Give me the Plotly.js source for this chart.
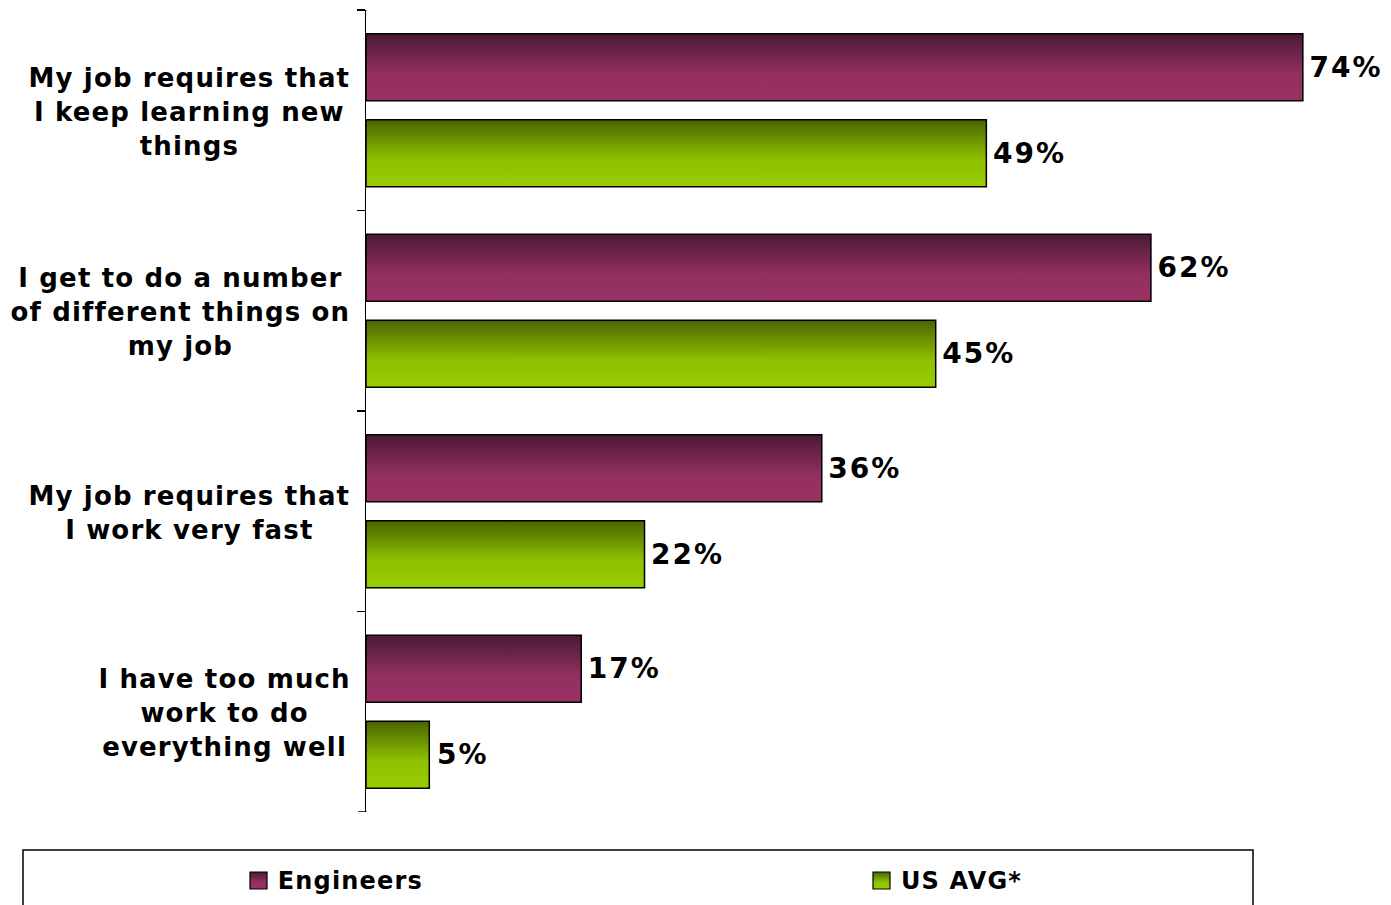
<!DOCTYPE html>
<html>
<head>
<meta charset="utf-8">
<script src="https://cdn.plot.ly/plotly-3.0.1.min.js"></script>
<style>
  html, body { margin: 0; padding: 0; background: #fff; }
  #chart { width: 1391px; height: 905px; }
  #chart .annotation-text { letter-spacing: 1.15px; }
  #chart .bartext { letter-spacing: 2px; }
</style>
</head>
<body>
<div id="chart"></div>
<script>
const categories = [
  'My job requires that<br>I keep learning new<br>things',
  'I get to do a number<br>of different things on<br>my job',
  'My job requires that<br>I work very fast',
  'I have too much<br>work to do<br>everything well'
];
const engineers = [74, 62, 36, 17];
const usAvg = [49, 45, 22, 5];
const seriesNames = ['Engineers', 'US AVG*'];

const W = 1391, H = 905;
const px = v => v / W;
const py = v => 1 - v / H;
const FONT = 'DejaVu Sans, Verdana, sans-serif';
const LS = 1.15; // letter spacing used on annotation text (see CSS)
// Plotly centres annotation lines using widths measured without letter-spacing;
// this offset re-aligns the widest line with the intended anchor.
const spacingShift = t => Math.max(...t.split('<br>').map(s => s.length)) * LS / 2;

function barTrace(name, values, color) {
  return {
    type: 'bar', orientation: 'h', name: name,
    y: categories, x: values,
    marker: { color: color, line: { color: '#000', width: 1.5 } },
    text: values.map(v => '\u2009' + v + '%'),
    texttemplate: '%{text}',
    textposition: 'outside', cliponaxis: false,
    textfont: { family: FONT, size: 28, color: '#000', weight: 'bold' },
    hoverinfo: 'skip'
  };
}
const traces = [
  barTrace(seriesNames[0], engineers, '#8a2c5a'),
  barTrace(seriesNames[1], usAvg, '#88b800')
];

const annotations = categories.map(c => ({
  xref: 'paper', yref: 'y', x: px(351), y: c, yshift: -1.5, xshift: -spacingShift(c) + LS,
  xanchor: 'right', yanchor: 'middle', align: 'center',
  text: c, showarrow: false,
  font: { family: FONT, size: 26, color: '#000', weight: 'bold' }
}));

// legend
const legendItems = [
  { x: 250, color: '#8a2c5a', name: seriesNames[0] },
  { x: 873, color: '#88b800', name: seriesNames[1] }
];
const shapes = [
  { type: 'rect', xref: 'paper', yref: 'paper', x0: px(23), x1: px(1253), y0: py(920), y1: py(850),
    line: { color: '#000', width: 1.5 }, fillcolor: 'rgba(0,0,0,0)', layer: 'above' }
];
legendItems.forEach(it => {
  shapes.push({ type: 'rect', xref: 'paper', yref: 'paper', x0: px(it.x), x1: px(it.x + 17), y0: py(889), y1: py(872),
    line: { color: '#000', width: 1.2 }, fillcolor: it.color, layer: 'above' });
  annotations.push({ xref: 'paper', yref: 'paper', x: px(it.x + 26), y: py(881), xshift: spacingShift(it.name),
    xanchor: 'left', yanchor: 'middle',
    text: it.name, showarrow: false, font: { family: FONT, size: 24, color: '#000', weight: 'bold' } });
});
// category boundary ticks at both ends of the axis
[-0.5, categories.length - 0.5].forEach(v => {
  shapes.push({ type: 'line', xref: 'paper', yref: 'y', x0: px(358), x1: px(366.5), y0: v, y1: v,
    line: { color: '#000', width: 1.5 }, layer: 'above' });
});

const layout = {
  width: W, height: H,
  margin: { l: 0, r: 0, t: 0, b: 0, pad: 0 },
  paper_bgcolor: '#fff', plot_bgcolor: 'rgba(0,0,0,0)',
  showlegend: false,
  barmode: 'group', bargap: 0.142, bargroupgap: 0.22,
  xaxis: {
    domain: [px(366), 1], range: [0, 1025 / 12.66],
    showline: false, showgrid: false, zeroline: false, showticklabels: false, ticks: ''
  },
  yaxis: {
    domain: [py(812), py(10)], type: 'category', categoryorder: 'array', categoryarray: categories,
    range: [categories.length - 0.5, -0.5],
    showline: true, linecolor: '#000', linewidth: 1.5,
    ticks: 'outside', ticklen: 8, tickcolor: '#000', tickwidth: 1.5, tickson: 'boundaries',
    showticklabels: false, showgrid: false, zeroline: false
  },
  shapes: shapes,
  annotations: annotations
};

Plotly.newPlot('chart', traces, layout, { displayModeBar: false, staticPlot: true }).then(gd => {
  const NS = 'http://www.w3.org/2000/svg';
  const svg = gd.querySelector('svg.main-svg');
  let defs = svg.querySelector('defs');
  if (!defs) { defs = document.createElementNS(NS, 'defs'); svg.insertBefore(defs, svg.firstChild); }
  const grads = {
    gradM: [['0', '#4a1a34'], ['0.6', '#932f61'], ['1', '#993264']],
    gradG: [['0', '#4a6400'], ['0.6', '#8fc200'], ['1', '#99cc00']]
  };
  Object.keys(grads).forEach(id => {
    const lg = document.createElementNS(NS, 'linearGradient');
    lg.setAttribute('id', id);
    lg.setAttribute('x1', '0'); lg.setAttribute('y1', '0');
    lg.setAttribute('x2', '0'); lg.setAttribute('y2', '1');
    grads[id].forEach(s => {
      const st = document.createElementNS(NS, 'stop');
      st.setAttribute('offset', s[0]);
      st.setAttribute('stop-color', s[1]);
      lg.appendChild(st);
    });
    defs.appendChild(lg);
  });
  const ids = ['gradM', 'gradG'];
  gd.querySelectorAll('.barlayer .trace').forEach((t, i) => {
    t.querySelectorAll('path').forEach(p => { p.style.fill = 'url(#' + ids[i] + ')'; });
  });
  const shp = gd.querySelectorAll('.layer-above .shapelayer path');
  if (shp.length >= 3) {
    shp[1].style.fill = 'url(#gradM)';
    shp[2].style.fill = 'url(#gradG)';
  }
});
</script>
</body>
</html>
